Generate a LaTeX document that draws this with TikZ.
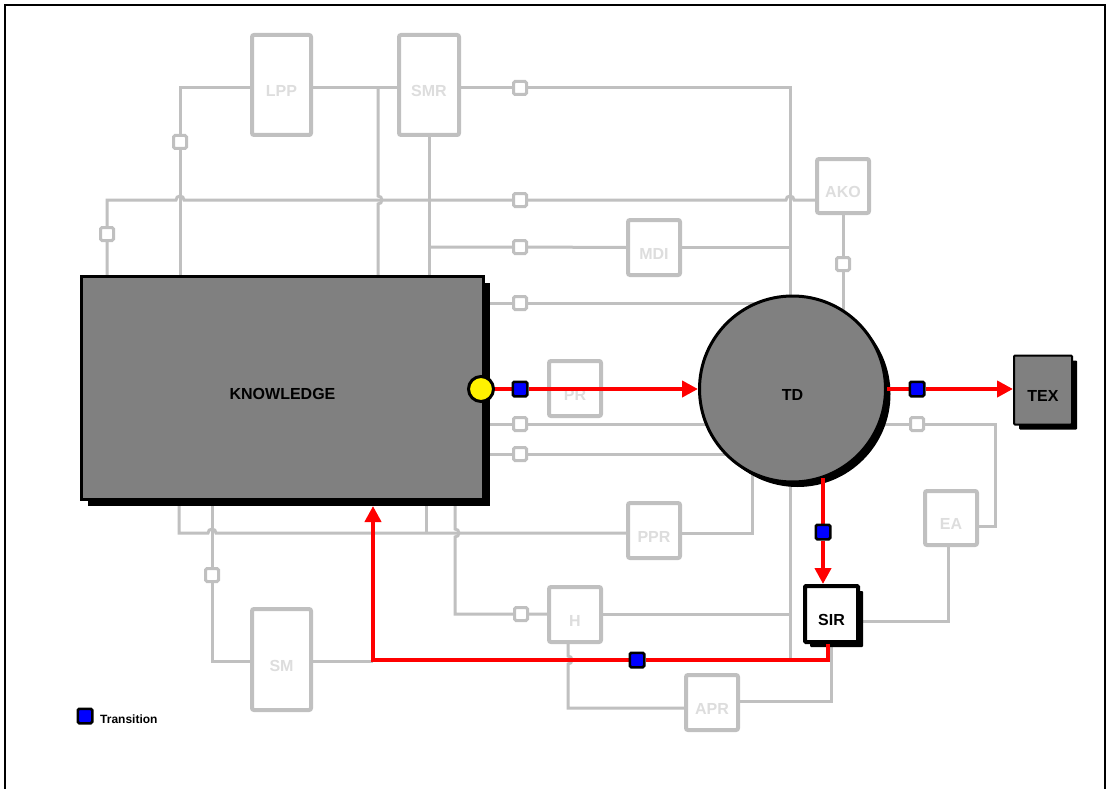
\documentclass[tikz,border=0pt]{standalone}
\usepackage{fontspec}
\setmainfont{Liberation Sans}
\usetikzlibrary{arrows.meta,shadows}
\definecolor{lg}{HTML}{C0C0C0}
\definecolor{lab}{HTML}{DDDDDD}
\definecolor{kg}{HTML}{808080}
\pgfdeclarelayer{bg}
\pgfdeclarelayer{fg}
\pgfsetlayers{bg,main,fg}
\tikzset{
 gl/.style={draw=lg, line width=3pt},
 gbox/.style={draw=lg, line width=4pt, fill=white, rounded corners=2pt, inner sep=0pt},
 glab/.style={text=lab, font=\bfseries\fontsize{16}{19}\selectfont, yshift=-6pt},
 blab/.style={text=black, font=\bfseries\fontsize{16}{19}\selectfont, yshift=-6pt},
 tsq/.style={draw=lg, line width=3pt, fill=white, minimum size=13pt, inner sep=0pt, rounded corners=1.5pt},
 bsq/.style={draw=black, line width=2.5pt, fill=blue, minimum size=14.5pt, inner sep=0pt, rounded corners=1.5pt},
 redl/.style={draw=red, line width=4pt, -{Triangle[length=16pt,width=16pt]}},
 shad/.style={drop shadow={shadow xshift=#1, shadow yshift=-#1, opacity=1, fill=black}},
}
\begin{document}
\begin{tikzpicture}[x=1pt,y=-1pt]
\useasboundingbox (0,0) rectangle (1108,789);

% helper coordinates
\coordinate (x179) at (179,0);
\coordinate (x212) at (212,0);
\coordinate (x373) at (373,0);
\coordinate (x378) at (378,0);
\coordinate (x426) at (426,0);
\coordinate (x455) at (455,0);
\coordinate (x568) at (568,0);
\coordinate (x752) at (752,0);
\coordinate (x790) at (790,0);
\coordinate (x823) at (823,0);
\coordinate (x828) at (828,0);
\coordinate (x948) at (948,0);
\coordinate (c88) at (0,88);
\coordinate (c200) at (0,200);
\coordinate (y533) at (0,533);
\coordinate (c526) at (995,526);
\coordinate (c660) at (0,660);
\coordinate (c661) at (0,661);
\coordinate (c701) at (0,701);
\coordinate (c708) at (0,708);
\coordinate (c621) at (0,621);

% gray boxes
\node[gbox, minimum width=59pt, minimum height=100pt, label={[glab]center:LPP}] (LPP) at (281.5,85) {};
\node[gbox, minimum width=60pt, minimum height=100pt, label={[glab]center:SMR}] (SMR) at (429,85) {};
\node[gbox, minimum width=52pt, minimum height=54pt, label={[glab]center:AKO}] (AKO) at (843,186) {};
\node[gbox, minimum width=52pt, minimum height=55pt, label={[glab]center:MDI}] (MDI) at (654,247.5) {};
\node[gbox, minimum width=52pt, minimum height=55pt, label={[glab]center:PR}] (PR) at (575,388.5) {};
\node[gbox, minimum width=52pt, minimum height=55pt, label={[glab]center:PPR}] (PPR) at (654,530.5) {};
\node[gbox, minimum width=52pt, minimum height=55pt, label={[glab]center:H}] (H) at (575,614.5) {};
\node[gbox, minimum width=52pt, minimum height=54pt, label={[glab]center:EA}] (EA) at (951,518) {};
\node[gbox, minimum width=52pt, minimum height=55pt, label={[glab]center:APR}] (APR) at (712,702.5) {};
\node[gbox, minimum width=59pt, minimum height=101pt, label={[glab]center:SM}] (SM) at (281.5,659.5) {};

% gray transitions
\node[tsq] (t1) at (180,142) {};
\node[tsq] (t2) at (107,234) {};
\node[tsq] (t3) at (520,88) {};
\node[tsq] (t4) at (520,200) {};
\node[tsq] (t5) at (520,247) {};
\node[tsq] (t6) at (520,303) {};
\node[tsq] (t7) at (520,424) {};
\node[tsq] (t8) at (917,424) {};
\node[tsq] (t9) at (520,454) {};
\node[tsq] (t10) at (843,264) {};
\node[tsq] (t11) at (212,575) {};
\node[tsq] (t12) at (521,614) {};

% main places
\node[draw=black, line width=3pt, fill=kg, minimum width=402pt, minimum height=223pt, inner sep=0pt, shad=6pt, label={[blab]center:KNOWLEDGE}] (K) at (282.5,388) {};
\node[circle, draw=black, line width=3pt, fill=kg, minimum size=186pt, inner sep=0pt, shad=5pt, label={[blab]center:TD}] (TD) at (792.5,389) {};
\node[draw=black, line width=2pt, fill=kg, minimum width=58pt, minimum height=69pt, inner sep=0pt, rounded corners=1pt, shad=5pt, label={[blab]center:TEX}] (TEX) at (1043,390) {};
\node[draw=black, line width=4pt, fill=white, minimum width=53pt, minimum height=56pt, inner sep=0pt, rounded corners=1pt, shad=5pt, label={[blab]center:SIR}] (SIR) at (831.5,614) {};

% background, frame and gray connectors
\begin{pgfonlayer}{bg}
\fill[white] (0,0) rectangle (1108,789);
\draw[line width=2pt] (5,800) -- (5,5) -- (1105,5) -- (1105,800);
\draw[gl] (LPP.west |- c88) -| (t1) -- (t1 |- K.north);
\draw[gl] (LPP.east |- c88) -- (SMR.west |- c88);
\draw[gl] (x378 |- c88) -- (378,196) arc(-90:90:4) -- (x378 |- K.north);
\draw[gl] (t2 |- K.north) -- (t2) -- (t2 |- c200) -- (176,200) arc(180:360:4) -- (t4) -- (786,200) arc(180:360:4) -- (AKO.west |- c200);
\draw[gl] (SMR.east |- t3) -- (t3) -| (x790 |- TD.center);
\draw[gl] (SMR.south) -- (SMR.south |- K.north);
\draw[gl] (SMR.south |- t5) -- (t5) -- (MDI.west);
\draw[gl] (MDI.east) -- (x790 |- MDI.east);
\draw[gl] (K.east |- t6) -- (t6) -- (t6 -| TD.center);
\draw[gl] (K.east |- t7) -- (t7) -- (t7 -| TD.center);
\draw[gl] (K.east |- t9) -- (t9) -- (t9 -| TD.center);
\draw[gl] (t8 -| TD.center) -- (t8) -| (c526) -- (EA.east |- c526);
\draw[gl] (AKO.south) -- (t10) -- (t10 |- TD.center);
\draw[gl] (x179 |- K.south) |- (208,533) arc(180:360:4) -- (PPR.west |- y533);
\draw[gl] (x212 |- K.south) -- (t11) |- (SM.west |- c661);
\draw[gl] (x426 |- K.south) -- (x426 |- y533);
\draw[gl] (x455 |- K.south) -- (455,529) arc(-90:90:4) |- (t12) -- (H.west |- t12);
\draw[gl] (SM.east |- c661) -- (x373 |- c661);
\draw[gl] (PPR.east |- y533) -| (x752 |- TD.center);
\draw[gl] (x790 |- TD.center) -- (x790 |- c660);
\draw[gl] (H.east) -- (x790 |- H.east);
\draw[gl] (x568 |- H.south) -- (568,656) arc(-90:90:4) |- (APR.west |- c708);
\draw[gl] (APR.east |- c701) -| (SIR.south);
\draw[gl] (SIR.east |- c621) -| (x948 |- EA.south);
\end{pgfonlayer}

% token place and transitions on top
\begin{pgfonlayer}{fg}
\node[circle, draw=black, line width=3pt, fill=yellow, minimum size=25pt, inner sep=0pt] (Y) at (481,389) {};
\node[bsq] (b1) at (520,389) {};
\node[bsq] (b2) at (917,389) {};
\node[bsq] (b3) at (823,532) {};
\node[bsq] (b4) at (637,660) {};
\node[bsq] (bL) at (85,716) {};
\node[anchor=base west, inner sep=0pt, font=\bfseries\fontsize{12}{14}\selectfont] (leg) at (100,723) {Transition};
\end{pgfonlayer}

% red arcs
\draw[redl] (Y.center) -- (b1) -- (TD.west);
\draw[redl] (TD.east) -- (b2) -- (TEX.west |- b2);
\draw[redl] (x823 |- TD.-71) -- (b3) -- (x823 |- SIR.north);
\draw[redl, shorten >=5pt] (x828 |- SIR.south) -- (x828 |- c660) -- (b4) -- (x373 |- c660) -- (x373 |- K.south);
\end{tikzpicture}
\end{document}
